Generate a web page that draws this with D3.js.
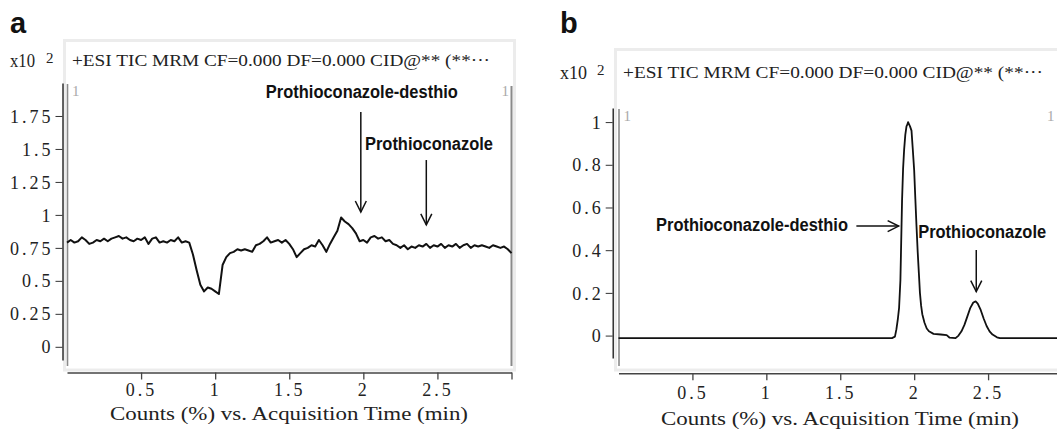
<!DOCTYPE html>
<html><head><meta charset="utf-8">
<script src="https://cdn.jsdelivr.net/npm/d3@7"></script>
<style>
body{margin:0;background:#fff;}
svg{display:block;}
</style></head><body>
<svg id="c" width="1057" height="430"></svg>
<script>
// ---------- data ----------
const timeA = [0.000,0.025,0.050,0.075,0.100,0.125,0.150,0.175,0.200,0.225,0.250,0.275,0.300,0.325,0.350,0.375,0.400,0.425,0.450,0.475,
0.500,0.525,0.550,0.575,0.600,0.625,0.650,0.675,0.700,0.725,0.750,0.775,0.800,0.825,0.850,0.875,0.900,0.925,0.950,0.975,
1.000,1.025,1.050,1.075,1.100,1.125,1.150,1.175,1.200,1.225,1.250,1.275,1.300,1.325,1.350,1.375,1.400,1.425,1.450,1.475,
1.500,1.525,1.550,1.575,1.600,1.625,1.650,1.675,1.700,1.725,1.750,1.775,1.800,1.825,1.850,1.875,1.900,1.925,1.950,1.975,
2.000,2.025,2.050,2.075,2.100,2.125,2.150,2.175,2.200,2.225,2.250,2.275,2.300,2.325,2.350,2.375,2.400,2.425,2.450,2.475,
2.500,2.525,2.550,2.575,2.600,2.625,2.650,2.675,2.700,2.725,2.750,2.775,2.800,2.825,2.850,2.875,2.900,2.925,2.950,2.975,3.000];
const countsA = [0.79,0.81,0.79,0.80,0.83,0.81,0.78,0.79,0.81,0.80,0.82,0.80,0.82,0.83,0.84,0.82,0.83,0.81,0.80,0.82,
0.81,0.83,0.78,0.82,0.83,0.79,0.80,0.79,0.81,0.80,0.83,0.79,0.80,0.79,0.70,0.58,0.47,0.42,0.45,0.44,
0.42,0.40,0.62,0.68,0.71,0.72,0.74,0.73,0.74,0.73,0.72,0.77,0.78,0.80,0.83,0.79,0.80,0.81,0.79,0.81,
0.78,0.74,0.68,0.71,0.74,0.75,0.77,0.76,0.81,0.77,0.72,0.78,0.83,0.88,0.98,0.95,0.93,0.90,0.86,0.80,
0.81,0.79,0.83,0.84,0.82,0.83,0.80,0.81,0.78,0.77,0.75,0.77,0.74,0.76,0.75,0.77,0.76,0.78,0.75,0.77,
0.76,0.78,0.75,0.77,0.76,0.78,0.75,0.77,0.78,0.75,0.77,0.76,0.77,0.76,0.75,0.77,0.76,0.75,0.76,0.74,0.71];

const timeB = [0.000,1.850,1.870,1.880,1.890,1.898,1.907,1.918,1.925,1.932,1.940,1.948,1.955,1.959,1.965,1.972,1.982,1.990,2.000,2.008,
2.016,2.024,2.032,2.039,2.047,2.055,2.070,2.085,2.100,2.131,2.180,2.220,2.240,2.280,2.300,2.320,2.340,2.360,2.380,2.400,
2.416,2.430,2.450,2.470,2.490,2.510,2.530,2.560,2.580,3.050];
const countsB = [-0.012,-0.012,-0.005,0.030,0.080,0.130,0.260,0.630,0.780,0.870,0.940,0.980,0.990,1.000,0.990,0.980,0.960,0.880,0.775,0.640,
0.510,0.390,0.290,0.200,0.140,0.100,0.060,0.033,0.020,0.008,0.005,0.002,-0.010,-0.012,0.000,0.020,0.050,0.090,0.130,0.155,
0.160,0.150,0.120,0.080,0.045,0.020,0.005,-0.008,-0.012,-0.012];

const xTickValues = [0.5,1,1.5,2,2.5,3];
const xTickLabels = ["0.5","1","1.5","2","2.5",""];
const yTickValuesA = [0,0.25,0.5,0.75,1,1.25,1.5,1.75];
const yTickLabelsA = ["0","0.25","0.5","0.75","1","1.25","1.5","1.75"];
const yTickValuesB = [0,0.2,0.4,0.6,0.8,1];
const yTickLabelsB = ["0","0.2","0.4","0.6","0.8","1"];
const panelLetters = ["a","b"];
const headerText = "+ESI TIC MRM CF=0.000 DF=0.000 CID@** (**\u00b7\u00b7\u00b7";
const scaleText = "x10";
const scaleExp = "2";
const xTitle = "Counts (%) vs. Acquisition Time (min)";
// annotations in data coordinates: label anchor (t,v), arrow from (t1,v1) to (t2,v2)
const annotA = [
  {label:"Prothioconazole-desthio", lt:1.99, lv:1.886, anchor:"middle", t1:1.983, v1:1.78, t2:1.983, v2:1.022},
  {label:"Prothioconazole", lt:2.443, lv:1.492, anchor:"middle", t1:2.425, v1:1.416, t2:2.425, v2:0.924}
];
const annotB = [
  {label:"Prothioconazole-desthio", lt:1.5525, lv:0.491, anchor:"end", t1:1.609, v1:0.513, t2:1.895, v2:0.513},
  {label:"Prothioconazole", lt:2.46, lv:0.457, anchor:"middle", t1:2.420, v1:0.401, t2:2.420, v2:0.206}
];

// ---------- drawing ----------
const svg = d3.select("#c");
const serif = "'Liberation Serif', 'DejaVu Serif', serif";
const sans = "'Liberation Sans', Arial, sans-serif";

function panel(cfg){
  const g = svg.append("g");
  const x = d3.scaleLinear().domain([0,3]).range([cfg.x0, cfg.x1]);
  const y = d3.scaleLinear().domain(cfg.yDom).range([cfg.yBot, cfg.yTop]);

  g.append("text").attr("x", cfg.letterX).attr("y", 33)
    .style("font-family", sans).attr("font-weight","bold").attr("font-size", 29)
    .attr("fill","#111").text(cfg.letter);

  g.append("rect").attr("x", cfg.frameX).attr("y", cfg.frameY)
    .attr("width", cfg.frameR - cfg.frameX).attr("height", 370 - cfg.frameY)
    .attr("fill","none").attr("stroke","#ececec").attr("stroke-width",3);

  g.append("text").attr("x", cfg.hdrX).attr("y", cfg.hdrY)
    .style("font-family", serif).attr("font-size", 17).attr("fill","#222")
    .attr("textLength", cfg.hdrW).attr("lengthAdjust","spacingAndGlyphs")
    .text(headerText);
  g.append("text").attr("x", cfg.sclX).attr("y", cfg.hdrY+1)
    .style("font-family", serif).attr("font-size", 18).attr("fill","#222")
    .attr("textLength", cfg.sclW).attr("lengthAdjust","spacingAndGlyphs")
    .text(scaleText);
  g.append("text").attr("x", cfg.sclX + cfg.expDX).attr("y", cfg.hdrY-3)
    .style("font-family", serif).attr("font-size", 15).attr("fill","#222")
    .text(scaleExp);

  g.append("line").attr("x1", cfg.x0+0.5).attr("x2", cfg.x0+0.5)
    .attr("y1", cfg.yTop+1).attr("y2", 366).attr("stroke","#8a8a8a").attr("stroke-width",1.6);
  g.append("line").attr("x1", cfg.x1).attr("x2", cfg.x1)
    .attr("y1", cfg.yTop+3).attr("y2", 366).attr("stroke","#8a8a8a").attr("stroke-width",2);

  g.append("text").attr("x", cfg.x0+5).attr("y", cfg.yTop+13)
    .style("font-family", serif).attr("font-size", 15).attr("fill","#aaa").text("1");
  g.append("text").attr("x", Math.min(cfg.x1-10, 1047)).attr("y", cfg.yTop+13)
    .style("font-family", serif).attr("font-size", 15).attr("fill","#aaa").text("1");

  const ya = g.append("g").attr("transform", `translate(${cfg.yAxisX},0)`)
    .call(d3.axisLeft(y).tickValues(cfg.yTicks).tickFormat((d,i)=>cfg.yLabels[i])
      .tickSize(7).tickSizeOuter(0).tickPadding(2));
  ya.select(".domain").attr("stroke","#111").attr("stroke-width",1.3);
  ya.selectAll(".tick line").attr("stroke","#333").attr("stroke-width",1);
  ya.selectAll(".tick text").style("font-family", serif).style("font-size","18px")
    .style("letter-spacing","3px").attr("fill","#222").attr("dy","0.34em");

  const xa = g.append("g").attr("transform", `translate(0,${cfg.xAxisY})`)
    .call(d3.axisBottom(x).tickValues(xTickValues).tickFormat((d,i)=>xTickLabels[i])
      .tickSize(7).tickSizeOuter(0).tickPadding(cfg.xPad));
  xa.select(".domain").attr("stroke","#444").attr("stroke-width",1.5);
  xa.selectAll(".tick line").attr("stroke","#444").attr("stroke-width",1.3);
  xa.selectAll(".tick text").style("font-family", serif).style("font-size","18px")
    .style("letter-spacing","3px").attr("fill","#222");

  g.append("text").attr("x", cfg.titleX).attr("y", cfg.titleY)
    .style("font-family", serif).attr("font-size", 18).attr("fill","#222")
    .attr("textLength", 358).attr("lengthAdjust","spacingAndGlyphs")
    .text(xTitle);

  const pts = cfg.times.map((t,i)=>[t, cfg.vals[i]]);
  g.append("path").datum(pts)
    .attr("d", d3.line().x(d=>x(d[0])).y(d=>y(d[1])))
    .attr("fill","none").attr("stroke","#111").attr("stroke-width",cfg.lw)
    .attr("stroke-linejoin","round");

  cfg.annots.forEach(a=>{
    const t = g.append("text").attr("x", x(a.lt)).attr("y", y(a.lv))
      .style("font-family", sans).attr("font-weight","bold").attr("font-size",18)
      .attr("fill","#111").attr("text-anchor", a.anchor).text(a.label);
    const w = t.node().getComputedTextLength();
    t.attr("textLength", w*0.914).attr("lengthAdjust","spacingAndGlyphs");
    const X1 = x(a.t1), Y1 = y(a.v1), X2 = x(a.t2), Y2 = y(a.v2);
    g.append("line").attr("x1",X1).attr("y1",Y1).attr("x2",X2).attr("y2",Y2)
      .attr("stroke","#111").attr("stroke-width",1.5);
    const ang = Math.atan2(Y2-Y1, X2-X1);
    const L = 11, W = 5.5;
    const bx = X2 - L*Math.cos(ang), by = Y2 - L*Math.sin(ang);
    const px = -Math.sin(ang)*W, py = Math.cos(ang)*W;
    g.append("path").attr("d", `M${bx+px},${by+py}L${X2},${Y2}L${bx-px},${by-py}`)
      .attr("fill","none").attr("stroke","#111").attr("stroke-width",1.5);
  });
}

panel({letter:panelLetters[0], letterX:10,
  x0:67, x1:511.5, yDom:[-0.1,2.0], yBot:360, yTop:83, yAxisX:62.5,
  yTicks:yTickValuesA, yLabels:yTickLabelsA, xAxisY:372.5, xPad:4,
  frameX:64.5, frameY:40.5, frameR:514.5,
  hdrX:72, hdrY:66, hdrW:418, sclX:10, sclW:25, expDX:36,
  titleX:110, titleY:420, times:timeA, vals:countsA, lw:2, annots:annotA});

panel({letter:panelLetters[1], letterX:560,
  x0:618.5, x1:1062, yDom:[-0.105,1.066], yBot:358, yTop:108, yAxisX:612.7,
  yTicks:yTickValuesB, yLabels:yTickLabelsB, xAxisY:373.3, xPad:6,
  frameX:615.5, frameY:49.5, frameR:1070,
  hdrX:623, hdrY:78, hdrW:420, sclX:560, sclW:27, expDX:37,
  titleX:661, titleY:425, times:timeB, vals:countsB, lw:1.8, annots:annotB});
</script>
</body></html>
